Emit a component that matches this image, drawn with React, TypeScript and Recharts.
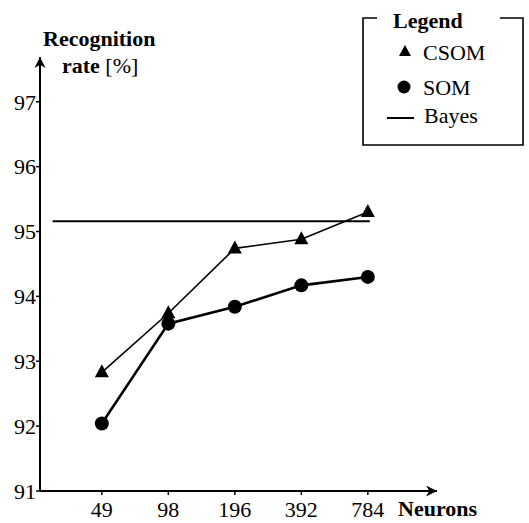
import { LineChart, Line, XAxis, YAxis, ReferenceLine } from 'recharts';

const neurons = ['49', '98', '196', '392', '784'];
const csom = [92.83, 93.74, 94.74, 94.88, 95.3];
const som = [92.04, 93.58, 93.84, 94.17, 94.3];
const bayes = 95.16;
const bayesSpan = [0.26, 5.03];
const yTicks = [91, 92, 93, 94, 95, 96, 97];

const data = neurons.map((n, i) => ({ pos: i + 1, name: n, csom: csom[i], som: som[i] }));

const FONT = '"Liberation Serif", "Times New Roman", serif';

const Triangle = (props: any) => {
  const { cx, cy } = props;
  if (cx == null || cy == null) return null;
  return <path d={`M${cx},${cy - 8} L${cx + 7},${cy + 5} L${cx - 7},${cy + 5} Z`} fill="#000" />;
};

const App = () => {
  return (
    <div style={{ position: 'absolute', left: 0, top: 0, background: '#fff' }}>
      <LineChart
        width={529}
        height={523}
        data={data}
        margin={{ top: 57, right: 92, bottom: 0, left: 0 }}
        style={{ fontFamily: FONT }}
      >
        <defs>
          <marker
            id="arrow"
            viewBox="0 0 10 10"
            refX="10"
            refY="5"
            markerWidth="13"
            markerHeight="11"
            markerUnits="userSpaceOnUse"
            orient="auto-start-reverse"
          >
            <path d="M0,0 L10,5 L0,10 L3,5 Z" fill="#000" />
          </marker>
        </defs>
        <XAxis
          type="number"
          dataKey="pos"
          domain={[0.07, 6.04]}
          ticks={[1, 2, 3, 4, 5]}
          tickFormatter={(v) => neurons[v - 1]}
          allowDataOverflow
          height={32}
          tickSize={4}
          tickMargin={6}
          tick={{ fill: '#000', fontSize: 22, fontFamily: FONT }}
          tickLine={{ stroke: '#000', strokeWidth: 1.5 }}
          axisLine={{ stroke: '#000', strokeWidth: 2, markerEnd: 'url(#arrow)' }}
        />
        <YAxis
          domain={[91, 97.69]}
          ticks={yTicks}
          allowDataOverflow
          width={40}
          tickSize={4}
          tickMargin={0}
          tick={{ fill: '#000', fontSize: 22, fontFamily: FONT }}
          tickLine={{ stroke: '#000', strokeWidth: 1.5 }}
          axisLine={{ stroke: '#000', strokeWidth: 2, markerStart: 'url(#arrow)' }}
        />
        <ReferenceLine
          segment={[
            { x: bayesSpan[0], y: bayes },
            { x: bayesSpan[1], y: bayes },
          ]}
          stroke="#000"
          strokeWidth={2}
        />
        <Line
          dataKey="csom"
          stroke="#000"
          strokeWidth={1.6}
          dot={<Triangle />}
          isAnimationActive={false}
        />
        <Line
          dataKey="som"
          stroke="#000"
          strokeWidth={2.6}
          dot={{ r: 7, fill: '#000', stroke: 'none' }}
          isAnimationActive={false}
        />

        {/* axis titles */}
        <text x={43} y={46} fontFamily={FONT} fontSize={22} fontWeight="bold" fill="#000">
          Recognition
        </text>
        <text x={62} y={73} fontFamily={FONT} fontSize={22} fill="#000">
          <tspan fontWeight="bold">rate</tspan> [%]
        </text>
        <text x={398} y={516} fontFamily={FONT} fontSize={22} fontWeight="bold" fill="#000">
          Neurons
        </text>

        {/* legend box */}
        <path d="M377,18 L363,18 L363,145 L523,145 L523,18 L500,18" fill="none" stroke="#000" strokeWidth={1.6} />
        <text x={393} y={28} fontFamily={FONT} fontSize={22} fontWeight="bold" fill="#000">
          Legend
        </text>
        <path d="M405,45 L411,56 L399,56 Z" fill="#000" />
        <text x={423} y={60} fontFamily={FONT} fontSize={22} fill="#000">
          CSOM
        </text>
        <circle cx={404} cy={87} r={6.5} fill="#000" />
        <text x={423} y={95} fontFamily={FONT} fontSize={22} fill="#000">
          SOM
        </text>
        <line x1={387} y1={118} x2={414} y2={118} stroke="#000" strokeWidth={2} />
        <text x={424} y={123} fontFamily={FONT} fontSize={22} fill="#000">
          Bayes
        </text>
      </LineChart>
    </div>
  );
};

export default App;
